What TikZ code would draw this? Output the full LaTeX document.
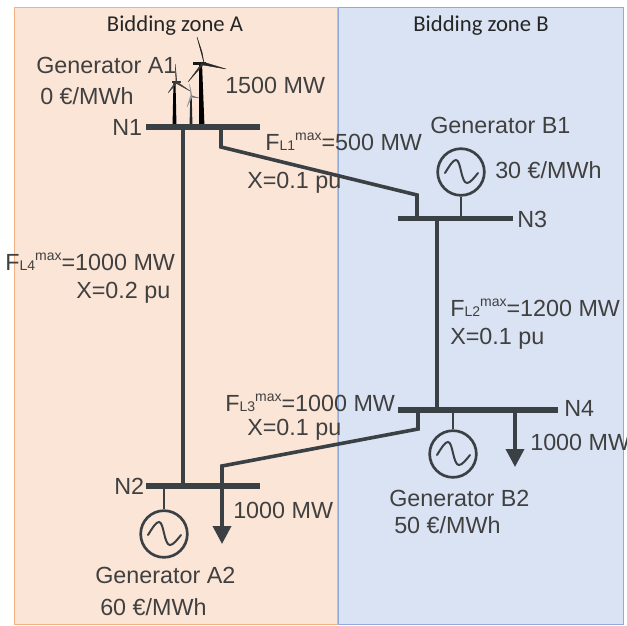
\documentclass[tikz,border=0pt]{standalone}
\usepackage{fontspec}
\setmainfont{Liberation Sans}
\newfontfamily\headfont{Carlito}
\usetikzlibrary{arrows.meta}
\definecolor{zoneAfill}{HTML}{FBE5D6}
\definecolor{zoneAline}{HTML}{F4B183}
\definecolor{zoneBfill}{HTML}{DAE3F3}
\definecolor{zoneBline}{HTML}{8FAADC}
\definecolor{ink}{HTML}{3A4044}
\definecolor{txt}{HTML}{404040}
\newcommand{\Flim}[2]{F{\fontsize{10.5}{12}\selectfont #1}\raisebox{0.42em}{\fontsize{10.5}{12}\selectfont max}=#2}
\tikzset{
  zoneA/.style={fill=zoneAfill,draw=zoneAline,line width=0.7pt},
  zoneB/.style={fill=zoneBfill,draw=zoneBline,line width=0.7pt},
  lbl/.style={anchor=west,inner sep=0pt,text=txt,font=\fontsize{17.5}{20}\selectfont},
  head/.style={anchor=center,inner sep=0pt,text=black!85,font=\headfont\fontsize{17}{20}\selectfont},
  bus/.style={fill=ink,inner sep=0pt,minimum height=3.8pt},
  line/.style={draw=ink,line width=2.7pt,line join=miter},
  stem/.style={draw=ink,line width=2.2pt},
  gen/.style={circle,draw=ink,line width=2pt,minimum size=35pt,inner sep=0pt},
  sine/.style={draw=ink,line width=1.5pt,line cap=round},
  load/.style={draw=ink,line width=2.7pt,-{Triangle[width=13.5pt,length=13.5pt,fill=ink]}},
  tower/.style={fill=black,draw=none},
  blade/.style={fill=#1,draw=#1,line width=0.3pt,line join=round}
}
\newcommand{\sinewave}[1]{\draw[sine,shift={(#1)}] (-16,1) .. controls (-11,-7) and (-8,-12) .. (-5,-12) .. controls (0,-12) and (0,11) .. (6,11) .. controls (9,11) and (13,6) .. (17,1);}
\begin{document}
\begin{tikzpicture}[x=0.75pt,y=-0.75pt]
\path[use as bounding box,clip] (0,0) rectangle (627,625);
\fill[white] (0,0) rectangle (627,625);
\draw[zoneA] (14,7) rectangle (337,624);
\draw[zoneB] (338,7) rectangle (623,624);
\node[head] (hA) at (175,26) {Bidding zone A};
\node[head] (hB) at (481,26) {Bidding zone B};

% wind turbines
\fill[tower] (172.5,127) -- (173.5,82) -- (175.5,82) -- (176.5,127) -- cycle;
\fill[blade=black!80] (172,82.5) -- (180,82.5) -- (180,81) -- (172,81) -- cycle;
\fill[blade=black!75] (176,83) -- (175.2,64) -- (177,83) -- cycle;
\fill[blade=black!75] (176,81) -- (190,91) -- (175.5,83) -- cycle;
\fill[blade=black!75] (176,81) -- (168,93) -- (177,83) -- cycle;
\fill[black!85] (189.5,127) -- (190.3,96) -- (191.7,96) -- (192.5,127) -- cycle;
\fill[blade=black!40] (191,97) -- (189.5,84) -- (192,96) -- cycle;
\fill[blade=black!55] (191,95.5) -- (199,98) -- (191,97) -- cycle;
\fill[blade=black!40] (190.5,96) -- (187,107) -- (192,97) -- cycle;
\fill[tower] (199,127) -- (199,63) -- (202,63) -- (204.5,127) -- cycle;
\fill[blade=black!90] (193,62) -- (205,62) -- (205,64.5) -- (193,64.5) -- cycle;
\fill[blade=black!85] (204,63) -- (197,37) -- (202,52) -- cycle;
\fill[blade=black!85] (203,62) -- (226,69) -- (203,65) -- cycle;
\fill[blade=black!80] (202,63) -- (188,82) -- (203,65) -- cycle;

% buses
\node[bus,minimum width=85.5pt] (n1) at (203,127) {};
\node[bus,minimum width=85.5pt] (n2) at (203,486) {};
\node[bus,minimum width=86pt] (n3) at (455.5,218.5) {};
\node[bus,minimum width=120pt] (n4) at (478,410) {};

% generators
\node[gen] (gb1) at (461,172) {};
\node[gen] (ga2) at (164,534) {};
\node[gen] (gb2) at (453,454) {};
\sinewave{gb1}
\sinewave{ga2}
\sinewave{gb2}
\draw[stem] (gb1.south) -- (gb1.south |- n3.center);
\draw[stem] (ga2.north) -- (ga2.north |- n2.center);
\draw[stem] (gb2.north) -- (gb2.north |- n4.center);

% connectors
\coordinate (l4a) at (183,127);
\coordinate (l4b) at (183,486);
\coordinate (l1a) at (221,127);
\coordinate (l1b) at (221,147);
\coordinate (l1c) at (417,195);
\coordinate (l1d) at (417,218);
\coordinate (l2a) at (437,218);
\coordinate (l2b) at (437,410);
\coordinate (l3a) at (418,410);
\coordinate (l3b) at (418,429);
\coordinate (l3c) at (222,466);
\coordinate (l3d) at (222,486);
\coordinate (ta2) at (222,544);
\coordinate (lb4) at (515,410);
\coordinate (tb4) at (515,467);
\draw[line] (l4a) -- (l4b);
\draw[line] (l1a) -- (l1b) -- (l1c) -- (l1d);
\draw[line] (l2a) -- (l2b);
\draw[line] (l3a) -- (l3b) -- (l3c) -- (l3d);
\draw[load] (l3d) -- (ta2);
\draw[load] (lb4) -- (tb4);

% labels
\node[lbl] (t1) at (36,65) {Generator A1};
\node[lbl] (t2) at (40,96) {0 €/MWh};
\node[lbl] (t3) at (225,85) {1500 MW};
\node[lbl] (t4) at (112,127) {N1};
\node[lbl] (t5) at (265,142) {\Flim{L1}{500 MW}};
\node[lbl] (t6) at (247,183) {X=0.1 pu};
\node[lbl] (t7) at (430,125) {Generator B1};
\node[lbl] (t8) at (495,170) {30 €/MWh};
\node[lbl] (t9) at (517,219) {N3};
\node[lbl] (t10) at (5,262) {\Flim{L4}{1000 MW}};
\node[lbl] (t11) at (76,293) {X=0.2 pu};
\node[lbl] (t12) at (450,308) {\Flim{L2}{1200 MW}};
\node[lbl] (t13) at (450,339) {X=0.1 pu};
\node[lbl] (t14) at (225,403) {\Flim{L3}{1000 MW}};
\node[lbl] (t15) at (247,430) {X=0.1 pu};
\node[lbl] (t16) at (564,408) {N4};
\node[lbl] (t17) at (530,442) {1000 MW};
\node[lbl] (t18) at (114,486) {N2};
\node[lbl] (t19) at (233,510) {1000 MW};
\node[lbl] (t20) at (95,575) {Generator A2};
\node[lbl] (t21) at (100,607) {60 €/MWh};
\node[lbl] (t22) at (389,498) {Generator B2};
\node[lbl] (t23) at (394,525) {50 €/MWh};
\end{tikzpicture}
\end{document}
